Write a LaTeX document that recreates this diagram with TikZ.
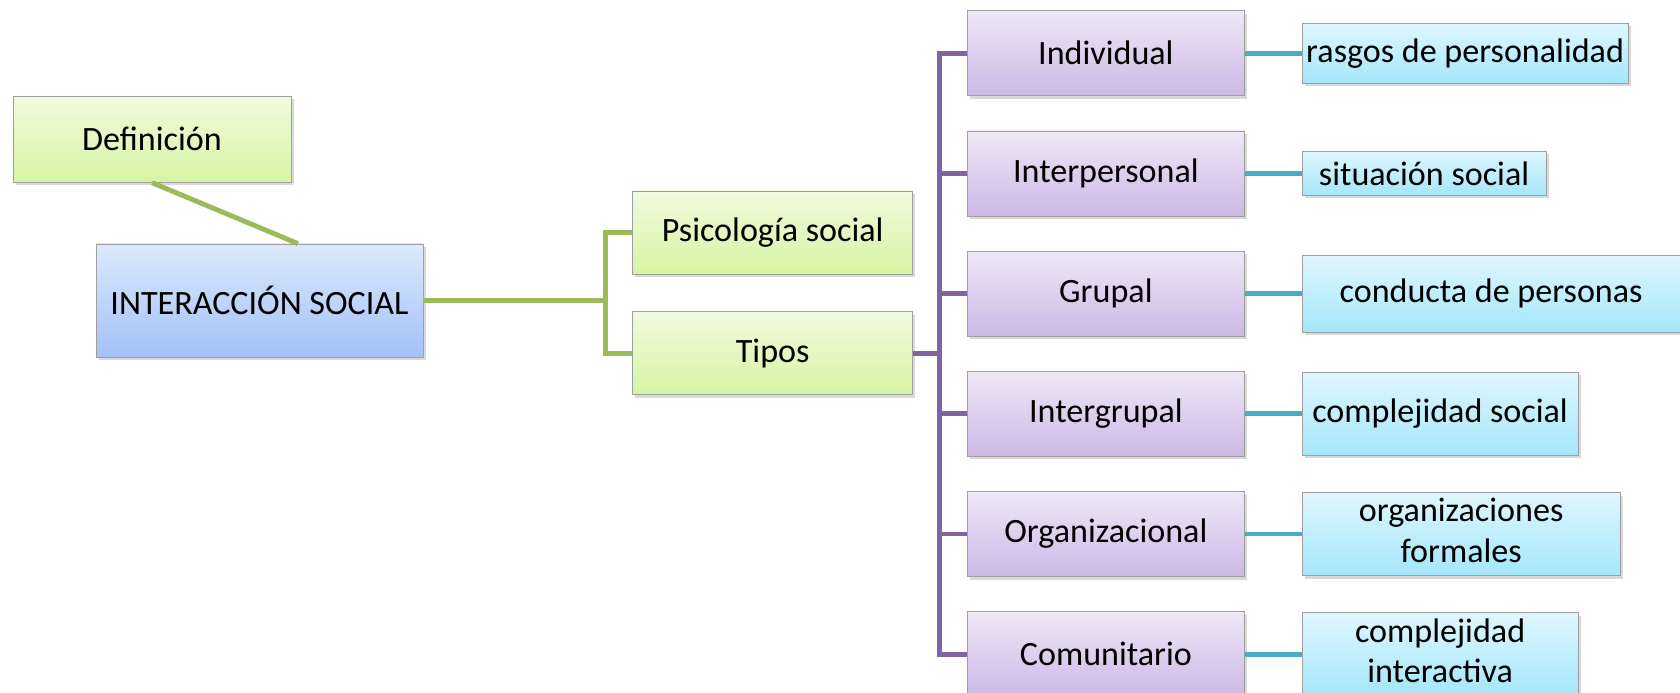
\documentclass[tikz,border=0pt]{standalone}
\usepackage{fontspec}
\setmainfont{Carlito}
\usetikzlibrary{
	positioning,
	calc,
	shadows
}
\definecolor{linegreen}{RGB}{155,187,89}
\definecolor{linepurple}{RGB}{128,100,162}
\definecolor{lineteal}{RGB}{75,172,198}
\newcommand{\liftlines}[1]{\raisebox{0.1cm}{\begin{tabular}{@{}c@{}}#1\end{tabular}}}

\begin{document}
\begin{tikzpicture}[
		node distance = 0.69cm and 1.14cm,
		box/.style={
			draw=gray!75,
			rectangle,
			inner sep=0pt,
			align=center,
			font=\fontsize{19.4}{23}\selectfont,
			drop shadow={shadow xshift=0.05cm, shadow yshift=-0.06cm, opacity=0.3}
		},
		greenbox/.style={
			box,
			top color={rgb,255:red,240;green,251;blue,221},
			bottom color={rgb,255:red,214;green,244;blue,163},
			minimum width = 5.6cm,
			minimum height = 1.66cm
		},
		bluebox/.style={
			box,
			top color={rgb,255:red,221;green,233;blue,253},
			bottom color={rgb,255:red,162;green,193;blue,247},
			minimum width = 6.54cm,
			minimum height = 2.26cm
		},
		purplebox/.style={
			box,
			top color={rgb,255:red,238;green,232;blue,246},
			bottom color={rgb,255:red,204;green,184;blue,230},
			minimum width = 5.54cm,
			minimum height = 1.7cm
		},
		cyanbox/.style={
			box,
			top color={rgb,255:red,223;green,247;blue,254},
			bottom color={rgb,255:red,164;green,230;blue,250},
			minimum height = 1.66cm
		},
		greenline/.style={draw=linegreen, line width=2.8pt},
		purpleline/.style={draw=linepurple, line width=2.8pt},
		tealline/.style={draw=lineteal, line width=2.8pt}
	]
	\useasboundingbox (0,0) rectangle (33.6,-13.86);

	\node[bluebox] (A) at (5.19,-6.01) {INTERACCIÓN SOCIAL};
	\node[greenbox, above = 1.22cm of A, xshift=-2.15cm, minimum width=5.56cm, minimum height=1.72cm] (B) {Definición};
	\node[greenbox, right = 4.18cm of A, yshift=1.36cm] (C) {Psicología social};
	\node[greenbox, below = 0.74cm of C] (D) {Tipos};

	\node[purplebox, right = 1.08cm of D, yshift=6.0cm] (E) {Individual};
	\node[purplebox, below = of E] (F) {Interpersonal};
	\node[purplebox, below = of F] (G) {Grupal};
	\node[purplebox, below = of G] (H) {Intergrupal};
	\node[purplebox, below = of H] (I) {Organizacional};
	\node[purplebox, below = of I] (J) {Comunitario};

	\node[cyanbox, right = of E, minimum width=6.52cm, minimum height=1.2cm] (K) {rasgos de personalidad};
	\node[cyanbox, right = of F, minimum width=4.88cm, minimum height=0.88cm] (L) {situación social};
	\node[cyanbox, right = of G, minimum width=7.56cm, minimum height=1.54cm] (M) {conducta de personas};
	\node[cyanbox, right = of H, minimum width=5.52cm] (N) {complejidad social};
	\node[cyanbox, right = of I, minimum width=6.36cm] (O) {\liftlines{organizaciones\\formales}};
	\node[cyanbox, right = of J, minimum width=5.52cm] (P) {\liftlines{complejidad\\interactiva}};

	\coordinate (X) at ($(A.east)+(3.64,0)$);
	\coordinate (Y) at ($(D.east)+(0.52,0)$);

	\draw[greenline] (B.south) -- ([xshift=0.77cm]A.north);
	\draw[greenline] (A.east) -- (X);
	\draw[greenline] (X) |- (C.west);
	\draw[greenline] (X) |- (D.west);

	\draw[purpleline] (D.east) -- (Y);
	\draw[purpleline] (Y) |- (E.west);
	\draw[purpleline] (Y) |- (F.west);
	\draw[purpleline] (Y) |- (G.west);
	\draw[purpleline] (Y) |- (H.west);
	\draw[purpleline] (Y) |- (I.west);
	\draw[purpleline] (Y) |- (J.west);

	\draw[tealline] (E.east) -- (K.west);
	\draw[tealline] (F.east) -- (L.west);
	\draw[tealline] (G.east) -- (M.west);
	\draw[tealline] (H.east) -- (N.west);
	\draw[tealline] (I.east) -- (O.west);
	\draw[tealline] (J.east) -- (P.west);
\end{tikzpicture}
\end{document}
